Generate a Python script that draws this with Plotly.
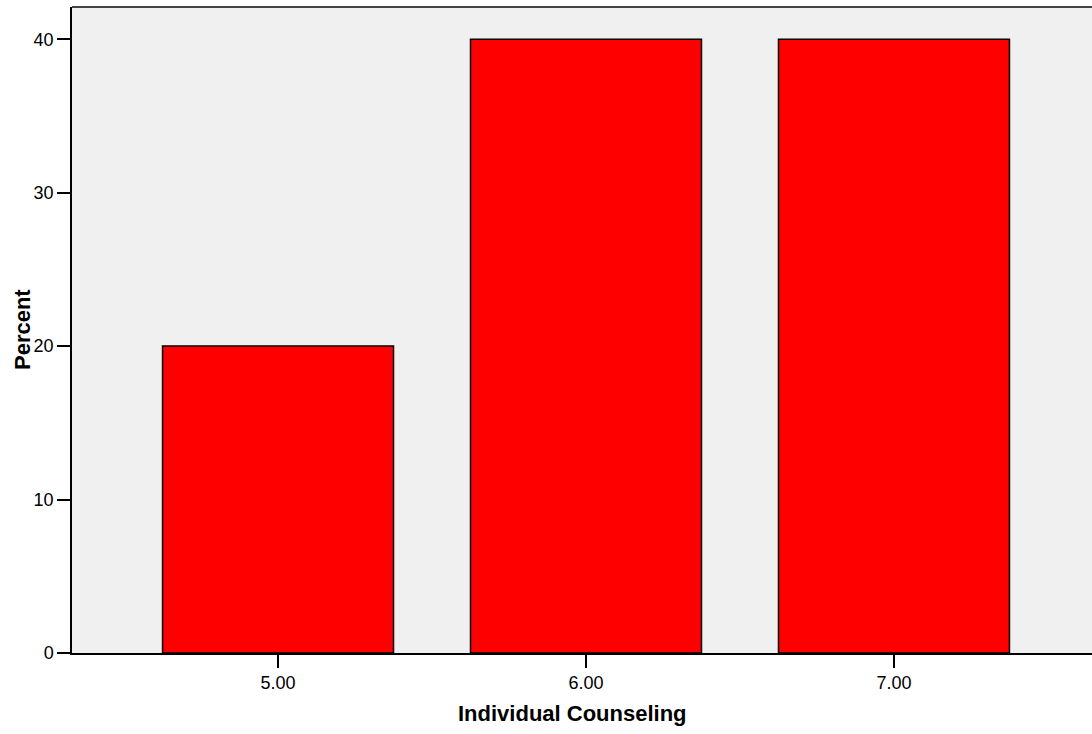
import plotly.graph_objects as go

categories = [5.0, 6.0, 7.0]
tick_labels = ["5.00", "6.00", "7.00"]
percent = [20, 40, 40]
y_ticks = [0, 10, 20, 30, 40]

narrow = "Liberation Sans Narrow, Arial Narrow, Liberation Sans, Arial, sans-serif"
bold = "Liberation Sans, Arial, sans-serif"

fig = go.Figure()
fig.add_trace(go.Bar(
    x=categories, y=percent, width=0.75,
    marker=dict(color="#FF0000", line=dict(color="#000000", width=1.5)),
    showlegend=False,
))

fig.update_layout(
    width=1092, height=734,
    margin=dict(l=72, r=0, t=7, b=81),
    paper_bgcolor="white", plot_bgcolor="#F0F0F0",
    bargap=0.25,
    xaxis=dict(
        range=[4.331, 7.643], tickvals=categories, ticktext=tick_labels,
        showgrid=False, zeroline=False, showline=True, linecolor="#000000", linewidth=1.5,
        ticks="outside", ticklen=13, tickwidth=1.5, tickcolor="#000000",
        tickfont=dict(family=narrow, size=18, color="#000000"),
    ),
    yaxis=dict(
        range=[0, 42.1], tickvals=y_ticks,
        showgrid=False, zeroline=False, showline=True, linecolor="#000000", linewidth=1.5,
        ticks="outside", ticklen=13, tickwidth=1.5, tickcolor="#000000",
        tickfont=dict(family=narrow, size=18, color="#000000"),
    ),
    shapes=[dict(type="line", xref="paper", yref="paper", x0=0, x1=1, y0=1, y1=1,
                 line=dict(color="#444444", width=2))],
    annotations=[
        dict(text="<b>Individual Counseling</b>", xref="paper", yref="paper",
             x=0.491, y=-0.0929, xanchor="center", yanchor="middle", showarrow=False,
             font=dict(family=bold, size=22, color="#000000")),
        dict(text="<b>Percent</b>", xref="paper", yref="paper",
             x=-0.049, y=0.5, xanchor="center", yanchor="middle", showarrow=False,
             textangle=-90, font=dict(family=bold, size=22, color="#000000")),
    ],
)

fig.write_html("out.html", config={"displayModeBar": False},
               post_script="document.body.style.margin='0';document.body.style.padding='0';")
